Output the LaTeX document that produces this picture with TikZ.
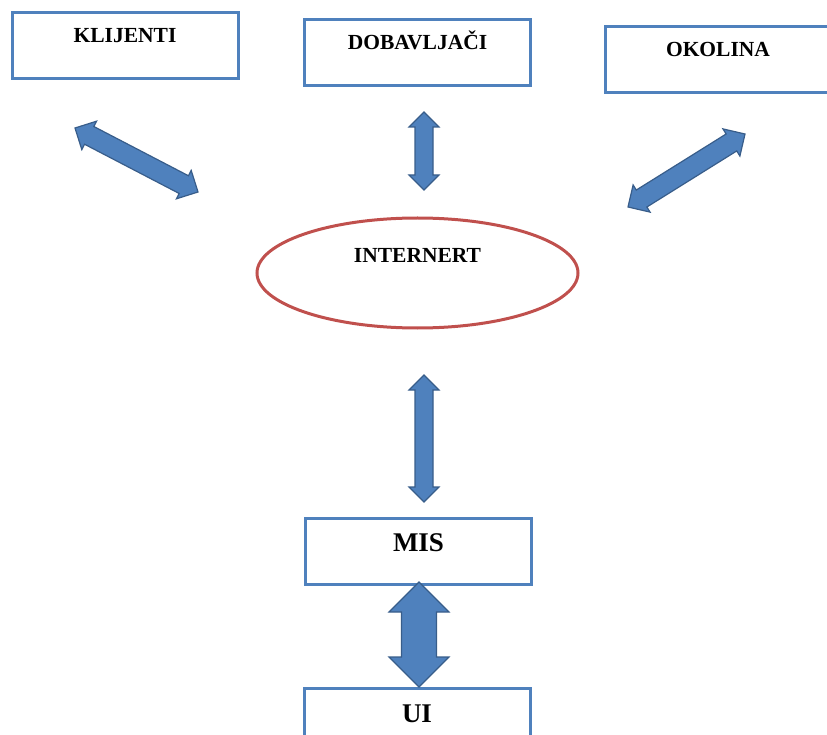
\documentclass[tikz,border=0pt]{standalone}
\usepackage{fontspec}
\setmainfont{Liberation Serif}
\definecolor{boxblue}{HTML}{4F81BD}
\definecolor{arrowblue}{HTML}{4F81BD}
\definecolor{arrowedge}{HTML}{385D8A}
\definecolor{netred}{HTML}{C0504D}
\usetikzlibrary{shapes.geometric, calc}
\tikzset{
  box/.style={
    draw=boxblue, line width=3pt, minimum width=226pt,
    inner sep=0pt, text height=30pt, text depth=36pt,
    font=\fontsize{21.5}{24}\selectfont\bfseries, anchor=base
  },
  bigbox/.style={box, font=\fontsize{27}{30}\selectfont\bfseries},
  netnode/.style={
    ellipse, draw=netred, line width=3pt, inner sep=0pt,
    minimum width=321pt, minimum height=110pt,
    text height=14pt, text depth=34pt,
    font=\fontsize{21.5}{24}\selectfont\bfseries
  },
  % fat two-headed block arrow: #1 half shaft, #2 half head
  dblarr/.style 2 args={
    draw=arrowedge, fill=arrowblue, line width=1.2pt, line join=miter,
    to path={
      -- ($(\tikztostart)!#2!(\tikztotarget)!#2!90:(\tikztotarget)$)
      -- ($(\tikztostart)!#2!(\tikztotarget)!#1!90:(\tikztotarget)$)
      -- ($(\tikztotarget)!#2!(\tikztostart)!#1!-90:(\tikztostart)$)
      -- ($(\tikztotarget)!#2!(\tikztostart)!#2!-90:(\tikztostart)$)
      -- (\tikztotarget)
      -- ($(\tikztotarget)!#2!(\tikztostart)!#2!90:(\tikztostart)$)
      -- ($(\tikztotarget)!#2!(\tikztostart)!#1!90:(\tikztostart)$)
      -- ($(\tikztostart)!#2!(\tikztotarget)!#1!-90:(\tikztotarget)$)
      -- ($(\tikztostart)!#2!(\tikztotarget)!#2!-90:(\tikztotarget)$)
      -- cycle}
  },
}
\begin{document}
\begin{tikzpicture}[x=1pt, y=-1pt]
  \useasboundingbox (0,0) rectangle (827,735);

  % Boxes
  \node[box] (klijenti) at (125,43) {KLIJENTI};
  \node[box] (dobavljaci) at (417.5,50) {DOBAVLJAČI};
  \node[box] (okolina) at (718,57) {OKOLINA};
  \node[netnode] (internet) at (417.5,273) {INTERNERT};
  \node[bigbox, text height=33pt, text depth=33pt] (mis) at (418.5,551) {MIS};
  \node[bigbox, text height=34pt, text depth=32pt] (ui) at (417,722) {UI};

  % Arrow ends
  \coordinate (kl-a) at (75,128);
  \coordinate (kl-b) at (198,192);
  \coordinate (do-a) at (424,112);
  \coordinate (do-b) at (424,190);
  \coordinate (ok-a) at (745,134);
  \coordinate (ok-b) at (628,207);
  \coordinate (in-a) at (424,375);
  \coordinate (in-b) at (424,502);
  \coordinate (mi-a) at (419,582);
  \coordinate (mi-b) at (419,687);

  \draw[dblarr={10pt}{16pt}] (kl-a) to (kl-b);
  \draw[dblarr={9pt}{15pt}] (do-a) to (do-b);
  \draw[dblarr={10pt}{16pt}] (ok-a) to (ok-b);
  \draw[dblarr={9pt}{15pt}] (in-a) to (in-b);
  \draw[dblarr={17.5pt}{30pt}] (mi-a) to (mi-b);
\end{tikzpicture}
\end{document}
